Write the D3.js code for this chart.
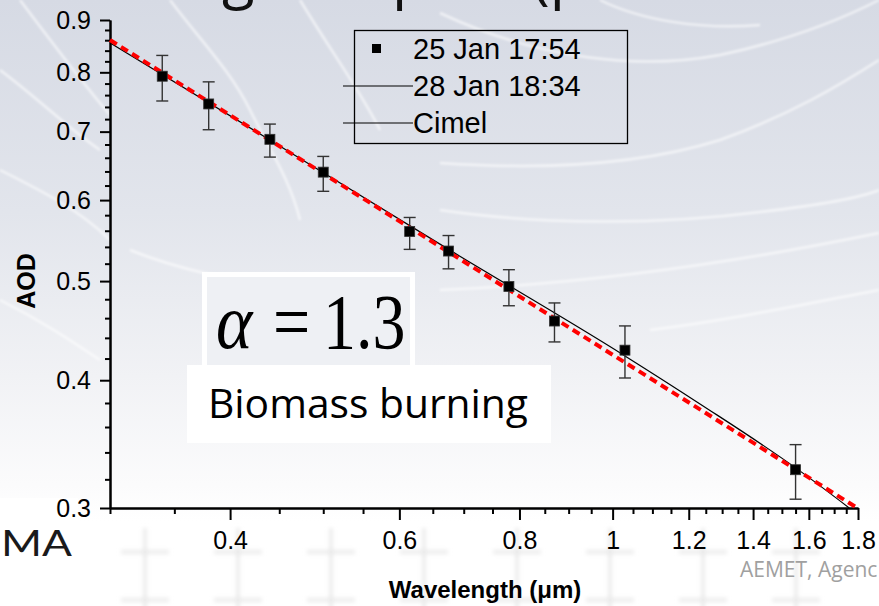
<!DOCTYPE html>
<html><head><meta charset="utf-8">
<script src="https://cdn.jsdelivr.net/npm/d3@7"></script>
<style>
html,body{margin:0;padding:0;background:#fff;}
svg{display:block;}
</style></head>
<body>
<svg id="chart" width="879" height="606"></svg>
<script>
// ---------- data ----------
const wavelengths = [0.34, 0.38, 0.44, 0.50, 0.615, 0.675, 0.78, 0.87, 1.03, 1.55];
const aod25Jan    = [0.793, 0.745, 0.688, 0.639, 0.559, 0.535, 0.494, 0.457, 0.428, 0.327];
const aodErrLow   = [0.750, 0.703, 0.661, 0.612, 0.537, 0.514, 0.473, 0.436, 0.402, 0.306];
const aodErrHigh  = [0.831, 0.783, 0.712, 0.662, 0.577, 0.554, 0.513, 0.476, 0.452, 0.346];

const line28JanLambda = [0.30, 0.44, 0.675, 1.03, 1.234, 1.553, 1.763];
const line28JanAOD    = [0.855, 0.687, 0.537, 0.4225, 0.379, 0.328, 0.300];

const cimelLambda = [0.30, 1.797];
const cimelAOD    = [0.8605, 0.300];

const xMajorTicks = [0.4, 0.6, 0.8, 1.0, 1.2, 1.4, 1.6, 1.8];
const xTickLabels = ["0.4", "0.6", "0.8", "1", "1.2", "1.4", "1.6", "1.8"];
const xMinorTicks = [0.3,0.35,0.45,0.5,0.55,0.65,0.7,0.75,0.85,0.9,0.95,1.05,1.1,1.15,1.25,1.3,1.35,1.45,1.5,1.55,1.65,1.7,1.75];
const yMajorTicks = [0.3, 0.4, 0.5, 0.6, 0.7, 0.8, 0.9];
const yTickLabels = ["0.3", "0.4", "0.5", "0.6", "0.7", "0.8", "0.9"];
const yMinorTicks = [0.32,0.34,0.36,0.38,0.42,0.44,0.46,0.48,0.52,0.54,0.56,0.58,0.62,0.64,0.66,0.68,0.72,0.74,0.76,0.78,0.82,0.84,0.86,0.88];

const legendLabels = ["25 Jan 17:54", "28 Jan 18:34", "Cimel"];

// ---------- setup ----------
const svg = d3.select("#chart");
const W = 879, H = 606;
const defs = svg.append("defs");
const grad = defs.append("linearGradient").attr("id","bg").attr("x1",0).attr("y1",0).attr("x2",0).attr("y2",1);
[["0%","#d6dae4"],["35%","#e2e5ec"],["62%","#f1f2f5"],["80%","#fbfbfc"],["86%","#ffffff"],["100%","#ffffff"]]
  .forEach(([o,c])=>grad.append("stop").attr("offset",o).attr("stop-color",c));
const blur = defs.append("filter").attr("id","soft").attr("x","-20%").attr("y","-20%").attr("width","140%").attr("height","140%");
blur.append("feGaussianBlur").attr("stdDeviation",1.2);
const blur2 = defs.append("filter").attr("id","soft2").attr("x","-50%").attr("y","-50%").attr("width","200%").attr("height","200%");
blur2.append("feGaussianBlur").attr("stdDeviation",2.2);

svg.append("rect").attr("width",W).attr("height",H).attr("fill","url(#bg)");

// background contour curves (slide decoration)
const curves = [
  "M20,0 C50,40 80,80 110,115",
  "M170,0 C200,40 230,70 250,110 C270,150 290,180 300,220",
  "M300,0 C330,50 360,90 380,130",
  "M0,70 C40,100 70,130 100,150",
  "M0,170 C40,190 80,210 110,240",
  "M0,300 C40,320 70,340 100,360",
  "M440,13 C540,60 640,70 720,55 C790,40 840,20 879,0",
  "M440,163 C540,170 640,165 720,140 C790,115 840,85 879,60",
  "M440,210 C540,225 660,225 760,212 C820,205 860,198 879,190",
  "M440,290 C560,285 700,270 879,233",
  "M600,0 C640,20 700,30 760,25",
  "M130,250 C180,270 230,280 300,290",
  "M650,330 C730,320 800,305 879,290"
];
svg.append("g").selectAll("path").data(curves).join("path")
  .attr("d", d=>d).attr("fill","none").attr("stroke","#ffffff").attr("stroke-opacity",0.6)
  .attr("stroke-width",2.5).attr("filter","url(#soft)");

// footer crosses
const crossX = [145, 238, 331, 424, 517, 610, 703, 796];
const crossRows = [552, 600];
const cg = svg.append("g").attr("filter","url(#soft2)").attr("stroke","#e6e6e6").attr("stroke-width",3);
crossRows.forEach(cy=>crossX.forEach(cx=>{
  cg.append("line").attr("x1",cx-24).attr("x2",cx+24).attr("y1",cy).attr("y2",cy);
  cg.append("line").attr("x1",cx).attr("x2",cx).attr("y1",cy-24).attr("y2",cy+24);
}));

// slide remnants (behind chart)
svg.append("rect").attr("x",0).attr("y",498).attr("width",78).attr("height",70).attr("fill","#ffffff");
svg.append("text").attr("x",1).attr("y",556).attr("font-family","Lato, 'Open Sans', sans-serif")
  .attr("font-size",36).attr("textLength",71).attr("lengthAdjust","spacingAndGlyphs").attr("fill","#1a1a1a").text("MA");
svg.append("text").attr("x",740).attr("y",577).attr("font-family","'Open Sans', sans-serif")
  .attr("font-size",21).attr("fill","#a0a0a0").text("AEMET, Agenc");

// title fragments cropped at top
const tg = svg.append("g").attr("font-family","'Open Sans', 'Liberation Sans', sans-serif").attr("font-size",60).attr("fill","#111");
tg.append("text").attr("x",222).attr("y",-3).text("g");
tg.append("text").attr("x",392).attr("y",-3).text("p");
tg.append("text").attr("x",532).attr("y",-3).text("(p");

// ---------- scales ----------
const x = d3.scaleLog().domain([0.3, 1.8]).range([110, 858]);
const y = d3.scaleLog().domain([0.3, 0.9]).range([508, 20]);

// ---------- annotation boxes ----------
svg.append("rect").attr("x",202).attr("y",272).attr("width",213).attr("height",96).attr("fill","#ffffff");
svg.append("rect").attr("x",207).attr("y",277).attr("width",203).attr("height",88).attr("fill","#eef0f4");
const eq = svg.append("g").attr("font-family","'Liberation Serif', 'DejaVu Serif', serif").attr("fill","#000");
eq.append("text").attr("transform","translate(216,348) scale(1.05,1.18)").attr("font-size",66).attr("font-style","italic").text("\u03B1");
eq.append("text").attr("transform","translate(273,348) scale(1,1.18)").attr("font-size",66).text("=");
eq.append("text").attr("transform","translate(323,348) scale(1,1.18)").attr("font-size",66).text("1.3");

svg.append("rect").attr("x",187).attr("y",365).attr("width",364).attr("height",78).attr("fill","#ffffff");
svg.append("text").attr("x",208).attr("y",418).attr("font-family","'Open Sans', sans-serif")
  .attr("font-size",40).attr("textLength",320).attr("lengthAdjust","spacingAndGlyphs").attr("fill","#000").text("Biomass burning");

// ---------- axes ----------
const axisFont = "'Liberation Sans', Arial, sans-serif";
const gx = svg.append("g").attr("transform","translate(0,508)");
gx.call(d3.axisBottom(x).tickValues(xMinorTicks).tickSize(6).tickSizeOuter(0).tickFormat(""));
gx.append("g").call(d3.axisBottom(x).tickValues(xMajorTicks).tickSize(12).tickSizeOuter(0)
  .tickFormat((d,i)=>xTickLabels[i]));
gx.selectAll(".domain").attr("stroke","#000").attr("stroke-width",2);
gx.selectAll(".tick line").attr("stroke","#000").attr("stroke-width",2);
gx.selectAll(".tick text").attr("font-family",axisFont).attr("font-size",25).attr("fill","#000").attr("dy","1.05em");

const gy = svg.append("g").attr("transform","translate(110,0)");
gy.call(d3.axisLeft(y).tickValues(yMinorTicks).tickSize(5).tickSizeOuter(0).tickFormat(""));
gy.append("g").call(d3.axisLeft(y).tickValues(yMajorTicks).tickSize(10).tickSizeOuter(0)
  .tickFormat((d,i)=>yTickLabels[i]));
gy.selectAll(".domain").attr("stroke","#000").attr("stroke-width",2);
gy.selectAll(".tick line").attr("stroke","#000").attr("stroke-width",2);
gy.selectAll(".tick text").attr("font-family",axisFont).attr("font-size",25).attr("fill","#000").attr("x",-19);

svg.append("text").attr("x",485).attr("y",598).attr("text-anchor","middle").attr("font-family",axisFont)
  .attr("font-weight","bold").attr("font-size",24).attr("fill","#000").text("Wavelength (\u03BCm)");
svg.append("text").attr("transform","translate(35,281) rotate(-90)").attr("text-anchor","middle").attr("font-family",axisFont)
  .attr("font-weight","bold").attr("font-size",25).attr("fill","#000").text("AOD");

// ---------- lines ----------
const black = line28JanLambda.map((l,i)=>[l, line28JanAOD[i]]);
svg.append("path").attr("d", d3.line().x(d=>x(d[0])).y(d=>y(d[1])).curve(d3.curveMonotoneX)(black)).attr("fill","none")
  .attr("stroke","#000").attr("stroke-width",1.2);
const red = cimelLambda.map((l,i)=>[l, cimelAOD[i]]);
svg.append("path").attr("d", d3.line().x(d=>x(d[0])).y(d=>y(d[1]))(red)).attr("fill","none")
  .attr("stroke","#ff0000").attr("stroke-width",4).attr("stroke-dasharray","8,5");

// ---------- error bars & points ----------
const pts = wavelengths.map((l,i)=>({l, v:aod25Jan[i], lo:aodErrLow[i], hi:aodErrHigh[i]}));
const eg = svg.append("g").attr("stroke","#333").attr("stroke-width",1.4);
pts.forEach(p=>{
  const cx = x(p.l);
  eg.append("line").attr("x1",cx).attr("x2",cx).attr("y1",y(p.hi)).attr("y2",y(p.lo));
  eg.append("line").attr("x1",cx-6).attr("x2",cx+6).attr("y1",y(p.hi)).attr("y2",y(p.hi));
  eg.append("line").attr("x1",cx-6).attr("x2",cx+6).attr("y1",y(p.lo)).attr("y2",y(p.lo));
});
svg.append("g").selectAll("rect").data(pts).join("rect")
  .attr("x",p=>x(p.l)-5).attr("y",p=>y(p.v)-5).attr("width",10).attr("height",10)
  .attr("fill","#000").attr("stroke","#333").attr("stroke-width",0.8);

// ---------- legend ----------
const lg = svg.append("g");
lg.append("rect").attr("x",354.5).attr("y",30.5).attr("width",273).attr("height",113)
  .attr("fill","none").attr("stroke","#000").attr("stroke-width",1.3);
const rowY = [49, 86, 123];
lg.append("rect").attr("x",372).attr("y",rowY[0]-5).attr("width",9).attr("height",9).attr("fill","#000");
lg.append("line").attr("x1",343).attr("x2",413).attr("y1",rowY[1]).attr("y2",rowY[1]).attr("stroke","#000").attr("stroke-width",1.2);
lg.append("line").attr("x1",343).attr("x2",413).attr("y1",rowY[2]).attr("y2",rowY[2]).attr("stroke","#000").attr("stroke-width",1.2);
lg.selectAll("text.lab").data(legendLabels).join("text").attr("class","lab")
  .attr("x",413).attr("y",(d,i)=>rowY[i]+10).attr("font-family",axisFont).attr("font-size",29)
  .attr("fill","#000").text(d=>d);
</script>
</body></html>
